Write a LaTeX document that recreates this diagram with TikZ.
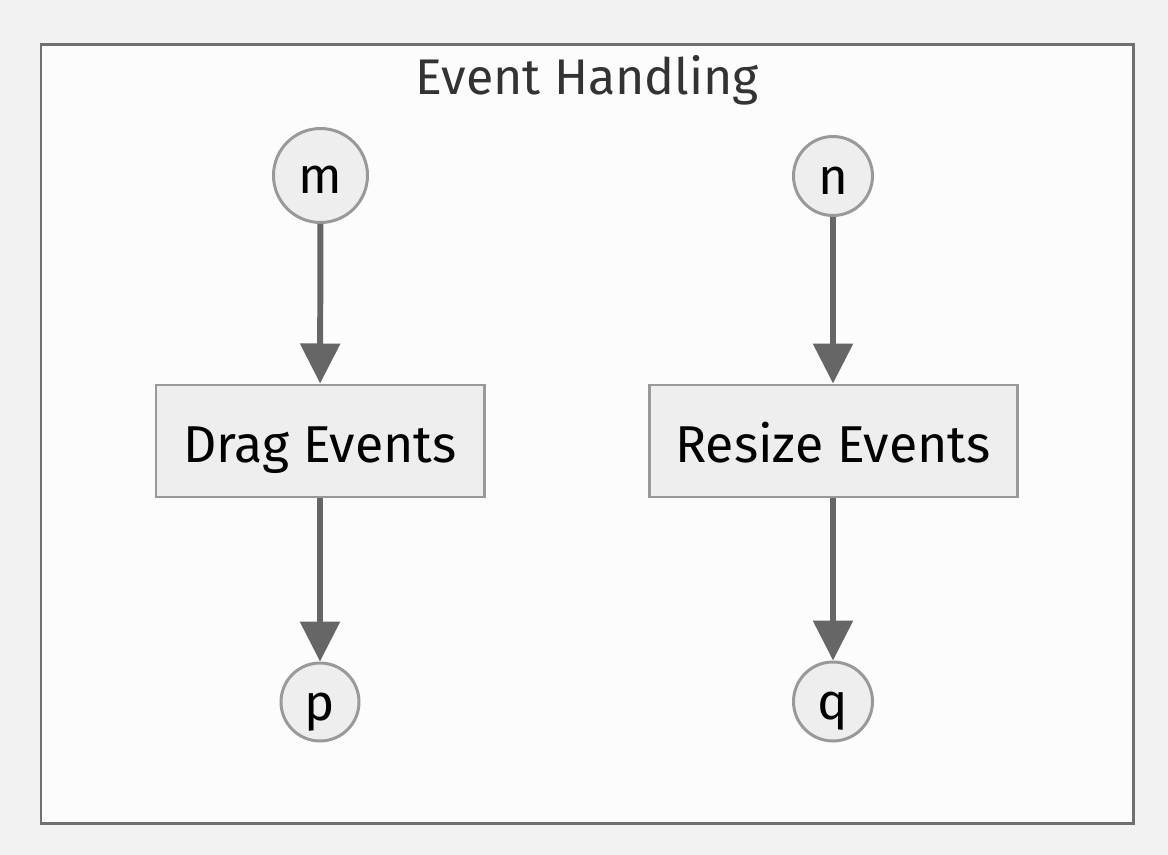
\documentclass[tikz,border=0pt]{standalone}
\usepackage{fontspec}
\setmainfont{Fira Sans}
\usetikzlibrary{arrows.meta}
\definecolor{pagebg}{HTML}{F2F2F2}
\definecolor{clusterbg}{HTML}{FCFCFC}
\definecolor{clusterline}{HTML}{707070}
\definecolor{nodebg}{HTML}{EEEEEE}
\definecolor{nodeline}{HTML}{999999}
\definecolor{edgeline}{HTML}{666666}
\definecolor{titletext}{HTML}{333333}
\tikzset{
	statecirc/.style={circle, draw=nodeline, fill=nodebg, line width=1.7pt, inner sep=0pt, text height=21pt, text depth=0pt, font=\fontsize{29}{34}\selectfont},
	eventbox/.style={rectangle, draw=nodeline, fill=nodebg, line width=1.7pt, inner sep=0pt, minimum height=2.24cm, text height=25pt, text depth=0pt, font=\fontsize{29.5}{34}\selectfont},
	flow/.style={color=edgeline, line width=3.4pt, -{Triangle[length=0.8cm, width=0.78cm]}}
}
\begin{document}
\begin{tikzpicture}
	\useasboundingbox (0,0) rectangle (23.36,-17.10);
	\fill [pagebg] (0,0) rectangle (23.36,-17.10);
	\draw [clusterline, fill=clusterbg, line width=1.7pt] (0.82,-0.90) rectangle (22.66,-16.46);
	\node [text=titletext, font=\fontsize{28.5}{32}\selectfont] (title) at (11.75,-1.60) {Event Handling};
	\node [statecirc, minimum size=1.88cm] (m) at (6.41,-3.51) {m};
	\node [statecirc, minimum size=1.58cm] (n) at (16.66,-3.52) {n};
	\node [eventbox, minimum width=6.56cm] (drag) at (6.40,-8.82) {Drag Events};
	\node [eventbox, minimum width=7.36cm] (resize) at (16.66,-8.82) {Resize Events};
	\node [statecirc, minimum size=1.56cm] (p) at (6.40,-14.04) {p};
	\node [statecirc, minimum size=1.58cm] (q) at (16.66,-14.03) {q};
	\path [flow] (m) edge (drag);
	\path [flow] (n) edge (resize);
	\path [flow] (drag) edge (p);
	\path [flow] (resize) edge (q);
\end{tikzpicture}
\end{document}
